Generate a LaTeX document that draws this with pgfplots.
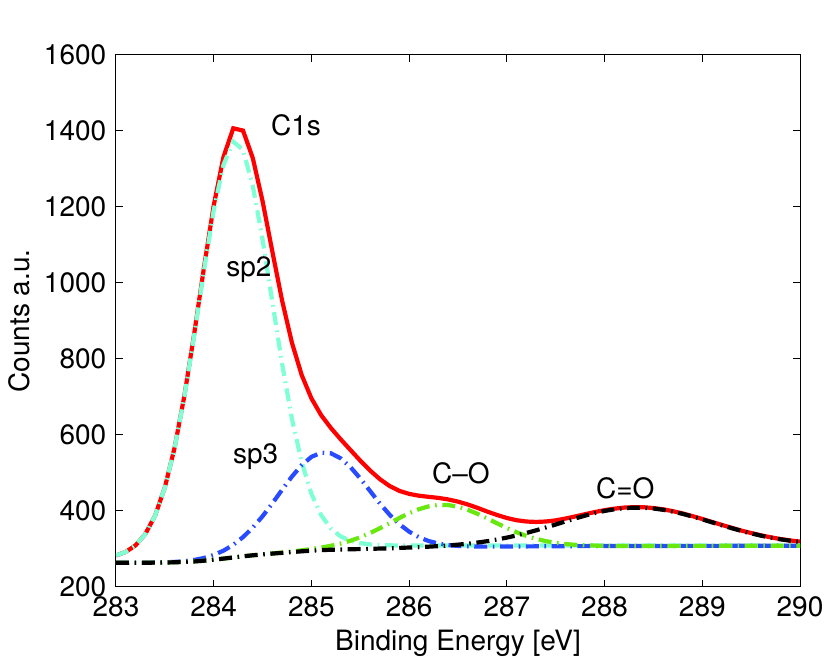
\documentclass[border=0pt]{standalone}
\usepackage{fontspec}
\setmainfont{TeX Gyre Heros}
\usepackage{pgfplots}
\pgfplotsset{compat=1.18}
\usepackage{pgfplotstable}
\definecolor{sptwo}{RGB}{127,255,212}
\definecolor{spthree}{RGB}{40,75,255}
\definecolor{cogreen}{RGB}{105,232,15}
\pgfplotstableread{
E red cyan blue green black
283.0 282.1 282.1 263.0 263.0 263.0
283.1 291.6 291.6 263.0 263.0 263.0
283.2 308.8 308.8 263.1 263.1 263.1
283.3 338.6 338.5 263.3 263.2 263.2
283.4 387.2 387.0 263.6 263.4 263.4
283.5 461.4 460.9 264.2 263.7 263.7
283.6 566.4 565.4 265.3 264.3 264.3
283.7 703.1 701.1 267.2 265.2 265.2
283.8 865.6 861.7 270.4 266.5 266.5
283.9 1039.8 1032.6 275.7 268.5 268.5
284.0 1203.6 1191.0 283.6 271.0 271.0
284.1 1331.5 1310.6 294.9 274.0 274.0
284.2 1407.0 1372.0 310.3 277.0 277.0
284.3 1401.0 1350.0 330.5 280.0 280.0
284.4 1328.6 1255.5 355.7 282.8 282.7
284.5 1215.2 1114.4 385.6 285.2 285.0
284.6 1082.6 949.9 419.5 287.6 287.2
284.7 953.3 786.5 455.2 290.0 289.2
284.8 842.9 642.7 489.9 292.7 291.2
284.9 757.6 528.2 520.0 295.8 293.2
285.0 695.8 444.6 541.9 299.3 295.0
285.1 651.5 388.2 552.8 303.1 296.3
285.2 617.6 352.9 551.2 307.8 297.3
285.3 588.0 332.2 537.9 313.6 298.0
285.4 559.7 320.7 514.8 321.1 298.6
285.5 532.0 314.6 485.0 330.3 299.1
285.6 506.0 311.4 452.0 341.3 299.8
285.7 483.3 309.8 419.3 353.8 300.4
285.8 465.1 309.0 389.6 367.2 301.1
285.9 452.3 308.6 364.6 380.9 302.1
286.0 444.4 308.6 345.0 393.6 303.2
286.1 439.6 308.5 330.3 404.1 304.2
286.2 436.6 308.4 320.2 411.6 305.4
286.3 433.8 308.5 313.6 415.3 306.9
286.4 429.8 308.4 309.6 414.9 308.6
286.5 424.0 308.4 307.3 410.5 310.7
286.6 416.5 308.4 306.2 402.5 313.2
286.7 407.6 308.4 305.7 391.9 316.3
286.8 397.8 308.4 305.5 379.6 319.9
286.9 388.8 308.5 305.6 366.9 324.3
287.0 380.9 308.5 305.7 354.5 329.3
287.1 375.0 308.5 305.9 343.3 335.0
287.2 371.6 308.6 306.1 333.7 341.5
287.3 370.5 308.6 306.3 326.0 348.5
287.4 371.7 308.6 306.4 319.9 356.0
287.5 374.7 308.5 306.5 315.4 363.8
287.6 379.5 308.6 306.7 312.4 371.9
287.7 385.0 308.6 306.8 310.3 379.7
287.8 390.9 308.6 306.9 309.0 387.1
287.9 396.6 308.6 307.0 308.2 393.8
288.0 401.6 308.6 307.1 307.7 399.5
288.1 405.5 308.5 307.1 307.4 403.8
288.2 408.3 308.6 307.2 307.3 406.8
288.3 409.4 308.5 307.2 307.2 408.1
288.4 409.2 308.6 307.3 307.3 407.9
288.5 407.1 308.5 307.3 307.3 405.9
288.6 403.7 308.6 307.4 307.4 402.5
288.7 398.8 308.5 307.4 307.4 397.7
288.8 392.8 308.6 307.5 307.5 391.7
288.9 385.8 308.5 307.5 307.5 384.8
289.0 378.3 308.5 307.5 307.5 377.3
289.1 370.4 308.4 307.5 307.5 369.5
289.2 362.7 308.5 307.6 307.6 361.8
289.3 355.1 308.5 307.6 307.6 354.2
289.4 347.8 308.4 307.6 307.6 347.0
289.5 341.3 308.5 307.7 307.7 340.5
289.6 335.3 308.5 307.7 307.7 334.5
289.7 330.0 308.4 307.7 307.7 329.3
289.8 325.5 308.4 307.7 307.7 324.8
289.9 321.8 308.5 307.8 307.8 321.1
290.0 318.7 308.5 307.8 307.8 318.0
}\xps
\begin{document}
\fontsize{14}{17}\selectfont
\begin{tikzpicture}
\useasboundingbox (0,0) rectangle (415pt,330pt);
\begin{axis}[
  at={(58pt,36.65pt)}, anchor=south west,
  scale only axis, width=342pt, height=265.85pt,
  xmin=283, xmax=290, ymin=200, ymax=1600,
  xtick={283,284,...,290}, ytick={200,400,...,1600},
  tick align=inside, major tick length=3.35pt,
  axis line style={line width=0.5pt},
  every tick/.style={black, line width=0.5pt},
  /pgf/number format/assume math mode=true,
  /pgf/number format/set thousands separator={},
  ticklabel style={font=\fontsize{14}{17}\selectfont},
  dp/.style={line width=2.1pt, dash pattern=on 6.5pt off 2.8pt on 0.8pt off 2.8pt},
]
\addplot[red, line width=2.1pt] table[x=E,y=red] {\xps};
\addplot[sptwo, dp] table[x=E,y=cyan] {\xps};
\addplot[spthree, dp] table[x=E,y=blue] {\xps};
\addplot[cogreen, dp] table[x=E,y=green] {\xps};
\addplot[black, dp] table[x=E,y=black] {\xps};
\node[anchor=base west, inner sep=0pt] at (axis cs:284.584,1389) {C1s};
\node[anchor=base west, inner sep=0pt] at (axis cs:284.126,1016) {sp2};
\node[anchor=base west, inner sep=0pt] at (axis cs:284.194,525) {sp3};
\node[anchor=base west, inner sep=0pt] at (axis cs:286.231,472) {C--O};
\node[anchor=base west, inner sep=0pt] at (axis cs:287.909,433) {C=O};
\end{axis}
\node[anchor=base] at (229pt,5pt) {Binding Energy [eV]};
\node[rotate=90, anchor=base] at (14.65pt,169.5pt) {Counts a.u.};
\end{tikzpicture}
\end{document}
